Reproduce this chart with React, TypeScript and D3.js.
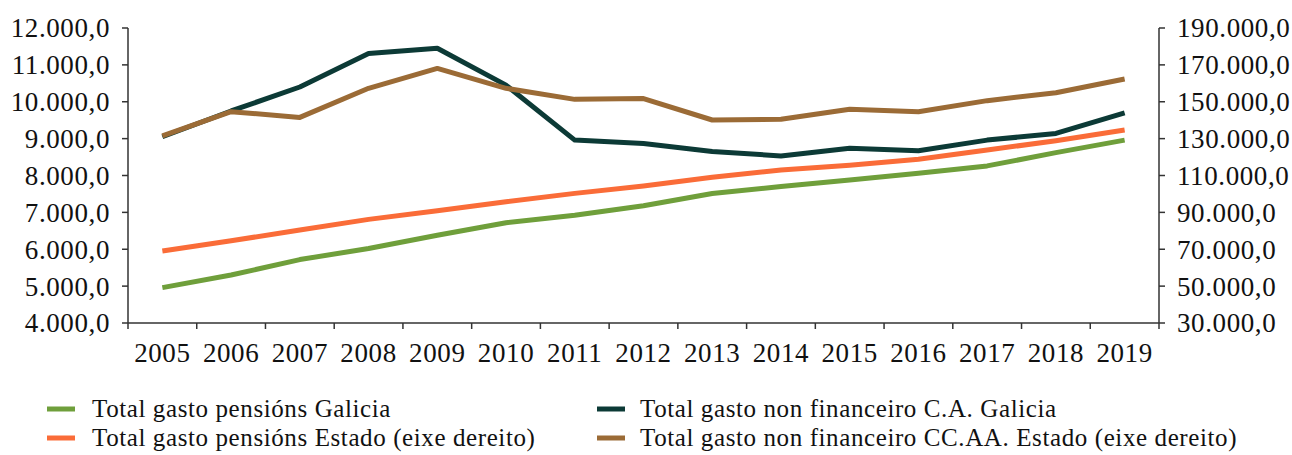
import React from "react";
import * as d3 from "d3";

const years = ["2005","2006","2007","2008","2009","2010","2011","2012","2013","2014","2015","2016","2017","2018","2019"];
// left axis
const pensionsGalicia = [4960, 5300, 5720, 6020, 6380, 6720, 6920, 7180, 7510, 7700, 7880, 8060, 8260, 8620, 8960];
const nonFinGalicia = [9050, 9750, 10400, 11310, 11450, 10450, 8960, 8870, 8650, 8530, 8740, 8670, 8960, 9140, 9700];
// right axis
const pensionsEstado = [69000, 74600, 80400, 86200, 90900, 95800, 100300, 104300, 109000, 113000, 115500, 118800, 123800, 128900, 134700];
const nonFinCCAA = [131500, 144600, 141500, 157300, 168100, 157300, 151300, 151700, 140100, 140500, 145900, 144600, 150600, 154900, 162300];

const leftTicks = [4000, 5000, 6000, 7000, 8000, 9000, 10000, 11000, 12000];
const rightTicks = [30000, 50000, 70000, 90000, 110000, 130000, 150000, 170000, 190000];

const legendItems = [
  { label: "Total gasto pensións Galicia", color: "#6F9F3B" },
  { label: "Total gasto non financeiro C.A. Galicia", color: "#0C3A36" },
  { label: "Total gasto pensións Estado (eixe dereito)", color: "#FA6C38" },
  { label: "Total gasto non financeiro CC.AA. Estado (eixe dereito)", color: "#9B6B36" },
];

const fmt = (v: number) => {
  const s = Math.round(v).toString().replace(/\B(?=(\d{3})+(?!\d))/g, ".");
  return s + ",0";
};

export default function App() {
  const W = 1292, H = 455;
  const left = 128, right = 1159, top = 28, bottom = 323;
  const font = "'Liberation Serif', 'Times New Roman', serif";

  const x = d3.scaleBand<string>().domain(years).range([left, right]).padding(0);
  const yL = d3.scaleLinear().domain([4000, 12000]).range([bottom, top]);
  const yR = d3.scaleLinear().domain([30000, 190000]).range([bottom, top]);
  const cx = (i: number) => (x(years[i]) as number) + x.bandwidth() / 2;

  const lineL = d3.line<number>().x((_, i) => cx(i)).y((d) => yL(d));
  const lineR = d3.line<number>().x((_, i) => cx(i)).y((d) => yR(d));

  const boundaries = years.map((y) => x(y) as number).concat([right]);

  const series = [
    { d: lineL(pensionsGalicia), color: legendItems[0].color },
    { d: lineL(nonFinGalicia), color: legendItems[1].color },
    { d: lineR(pensionsEstado), color: legendItems[2].color },
    { d: lineR(nonFinCCAA), color: legendItems[3].color },
  ];

  const legendPos = [
    { sx: 47, tx: 92, y: 409 },
    { sx: 597, tx: 640, y: 409 },
    { sx: 47, tx: 92, y: 438 },
    { sx: 597, tx: 640, y: 438 },
  ];

  return (
    <svg width={W} height={H} style={{ position: "absolute", left: 0, top: 0, background: "#fff" }} fontFamily={font}>
      {/* left axis */}
      <line x1={left} x2={left} y1={top} y2={bottom} stroke="#333" strokeWidth={1.5} />
      {leftTicks.map((t) => (
        <g key={"l" + t}>
          <line x1={left - 6} x2={left} y1={yL(t)} y2={yL(t)} stroke="#333" strokeWidth={1.5} />
          <text x={110} y={yL(t)} dy="0.35em" textAnchor="end" fontSize={27} letterSpacing={0.6} fill="#111">{fmt(t)}</text>
        </g>
      ))}
      {/* right axis */}
      <line x1={right} x2={right} y1={top} y2={bottom} stroke="#333" strokeWidth={1.5} />
      {rightTicks.map((t) => (
        <g key={"r" + t}>
          <line x1={right} x2={right + 6} y1={yR(t)} y2={yR(t)} stroke="#333" strokeWidth={1.5} />
          <text x={1177} y={yR(t)} dy="0.35em" textAnchor="start" fontSize={27} letterSpacing={0.6} fill="#111">{fmt(t)}</text>
        </g>
      ))}
      {/* x axis */}
      <line x1={left} x2={right} y1={bottom} y2={bottom} stroke="#333" strokeWidth={1.5} />
      {boundaries.map((b, i) => (
        <line key={"xt" + i} x1={b} x2={b} y1={bottom} y2={bottom + 6} stroke="#333" strokeWidth={1.5} />
      ))}
      {years.map((yr, i) => (
        <text key={yr} x={cx(i)} y={362} textAnchor="middle" fontSize={27} letterSpacing={0.6} fill="#111">{yr}</text>
      ))}
      {/* lines */}
      {series.map((s, i) => (
        <path key={i} d={s.d || ""} fill="none" stroke={s.color} strokeWidth={5} strokeLinejoin="round" />
      ))}
      {/* legend */}
      {legendItems.map((it, i) => (
        <g key={it.label}>
          <line x1={legendPos[i].sx} x2={legendPos[i].sx + 28} y1={legendPos[i].y} y2={legendPos[i].y} stroke={it.color} strokeWidth={5} />
          <text x={legendPos[i].tx} y={legendPos[i].y} dy="0.33em" fontSize={25} letterSpacing={0.6} fill="#111">{it.label}</text>
        </g>
      ))}
    </svg>
  );
}
